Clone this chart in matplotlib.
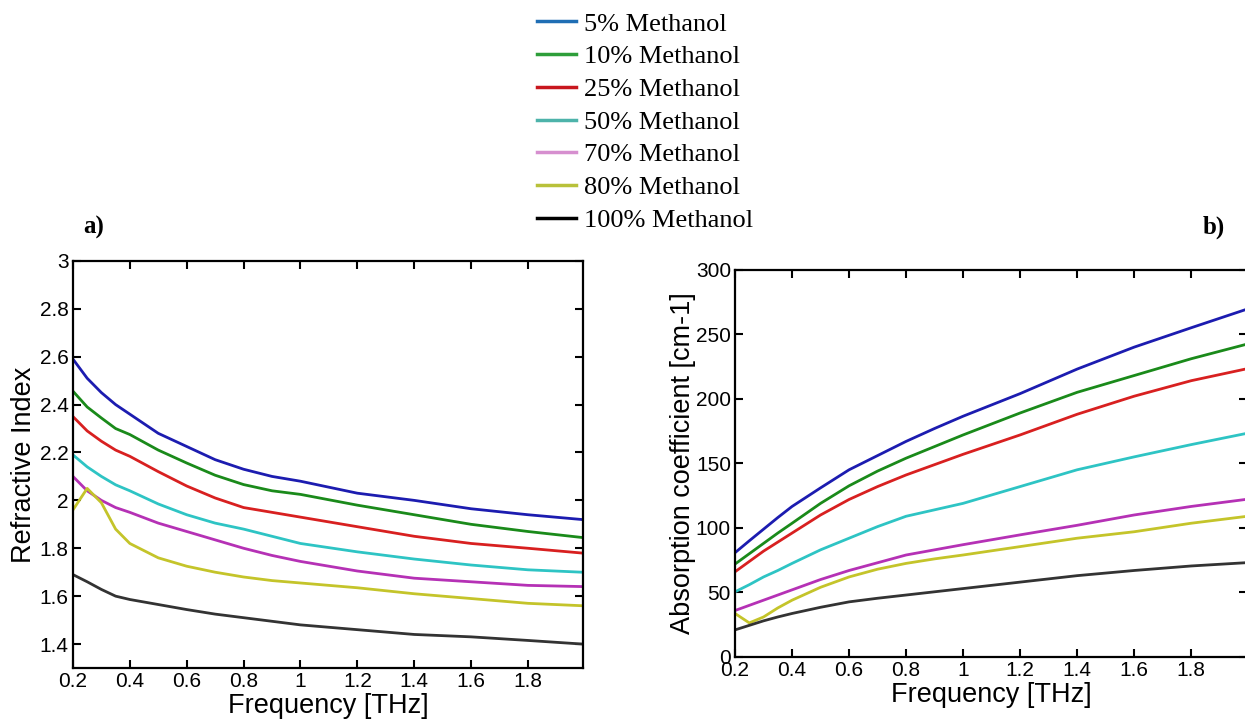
import numpy as np
import matplotlib.pyplot as plt
from matplotlib.lines import Line2D
from matplotlib.ticker import FuncFormatter

# frequency points [THz]
freq = [0.2, 0.25, 0.3, 0.35, 0.4, 0.5, 0.6, 0.7, 0.8, 0.9, 1.0, 1.2, 1.4, 1.6, 1.8, 1.99]

labels = ['5% Methanol', '10% Methanol', '25% Methanol', '50% Methanol',
          '70% Methanol', '80% Methanol', '100% Methanol']

# a) refractive index
n_5 = [2.59, 2.51, 2.45, 2.40, 2.36, 2.28, 2.225, 2.17, 2.13, 2.10, 2.08, 2.03, 2.00, 1.965, 1.94, 1.92]
n_10 = [2.456, 2.39, 2.344, 2.30, 2.275, 2.21, 2.156, 2.105, 2.066, 2.04, 2.025, 1.98, 1.94, 1.90, 1.87, 1.845]
n_25 = [2.35, 2.29, 2.247, 2.21, 2.184, 2.12, 2.06, 2.01, 1.97, 1.95, 1.93, 1.89, 1.85, 1.82, 1.80, 1.78]
n_50 = [2.19, 2.14, 2.10, 2.065, 2.04, 1.985, 1.94, 1.905, 1.88, 1.85, 1.82, 1.785, 1.755, 1.73, 1.71, 1.70]
n_70 = [2.10, 2.04, 2.00, 1.97, 1.95, 1.905, 1.87, 1.835, 1.80, 1.77, 1.745, 1.705, 1.675, 1.66, 1.645, 1.64]
n_80 = [1.96, 2.05, 1.99, 1.88, 1.82, 1.76, 1.725, 1.70, 1.68, 1.665, 1.655, 1.635, 1.61, 1.59, 1.57, 1.56]
n_100 = [1.69, 1.66, 1.628, 1.60, 1.586, 1.565, 1.544, 1.525, 1.51, 1.495, 1.48, 1.46, 1.44, 1.43, 1.415, 1.40]

# b) absorption coefficient [cm-1]
a_5 = [80.8, 90, 99, 108, 116.6, 131, 145, 156, 167, 177, 186.5, 204, 223, 240, 255, 269]
a_10 = [72, 80, 88, 96, 103.6, 119, 132.6, 144, 154, 163, 172, 189, 205, 218, 231, 242]
a_25 = [66, 74, 82, 89, 96, 110, 122, 132, 141, 149, 157, 172, 188, 202, 214, 223]
a_50 = [50.5, 56, 62, 67, 72.5, 83, 92, 101, 109, 114, 119, 132, 145, 155, 164.5, 173]
a_70 = [36, 40, 44, 48, 52, 60, 67, 73, 79, 83, 87, 94.6, 102, 110, 116.6, 122]
a_80 = [33.7, 26.4, 31, 38, 44, 54, 62, 68, 72.5, 76, 79, 85.5, 92, 97, 103.6, 108.8]
a_100 = [21, 24.5, 28, 31, 33.7, 38.5, 42.7, 45.5, 48, 50.5, 53, 58, 63, 67, 70.5, 73]

line_colors = ['#1c1cb0', '#1a8a1a', '#d82020', '#2ec4c4', '#b531b5', '#c4c42a', '#333333']
legend_colors = ['#1f6eb4', '#2e9e3a', '#c8171e', '#4db3aa', '#d68fcf', '#b8c13a', '#000000']

n_all = [n_5, n_10, n_25, n_50, n_70, n_80, n_100]
a_all = [a_5, a_10, a_25, a_50, a_70, a_80, a_100]

plt.rcParams['font.family'] = 'Liberation Sans'

fig = plt.figure(figsize=(12.45, 7.23), dpi=100)
ax1 = fig.add_axes([0.0586, 0.0761, 0.410, 0.563])
ax2 = fig.add_axes([0.5904, 0.0913, 0.411, 0.5357])

fmt = FuncFormatter(lambda v, p: f'{v:g}')

for ax, data in [(ax1, n_all), (ax2, a_all)]:
    for y, c in zip(data, line_colors):
        ax.plot(freq, y, color=c, lw=2.0)
    ax.set_xlim(0.2, 1.995)
    ax.set_xticks(np.arange(0.2, 1.81, 0.2))
    ax.xaxis.set_major_formatter(fmt)
    ax.yaxis.set_major_formatter(fmt)
    ax.tick_params(direction='in', top=True, right=True, length=6, width=1.5,
                   labelsize=15, pad=3)
    for s in ax.spines.values():
        s.set_linewidth(1.6)
    ax.set_xlabel('Frequency [THz]', fontsize=19.5, labelpad=1)

ax1.set_ylim(1.3, 3)
ax1.set_yticks(np.arange(1.4, 3.01, 0.2))
ax1.set_ylabel('Refractive Index', fontsize=19.5, labelpad=2)

ax2.set_ylim(0, 300)
ax2.set_yticks(np.arange(0, 301, 50))
ax2.set_ylabel('Absorption coefficient [cm-1]', fontsize=19.5, labelpad=0)

handles = [Line2D([], [], color=c, lw=2.5) for c in legend_colors]
fig.legend(handles, labels, loc='upper left', bbox_to_anchor=(0.412, 1.016),
           frameon=False, prop={'family': 'Liberation Serif', 'size': 19},
           handlelength=1.5, handletextpad=0.3, labelspacing=0.35)

fig.text(0.075, 0.685, 'a)', fontsize=18, fontweight='bold', family='Liberation Serif',
         ha='center', va='center')
fig.text(0.975, 0.685, 'b)', fontsize=18, fontweight='bold', family='Liberation Serif',
         ha='center', va='center')

fig.savefig('out.png', dpi=100)
